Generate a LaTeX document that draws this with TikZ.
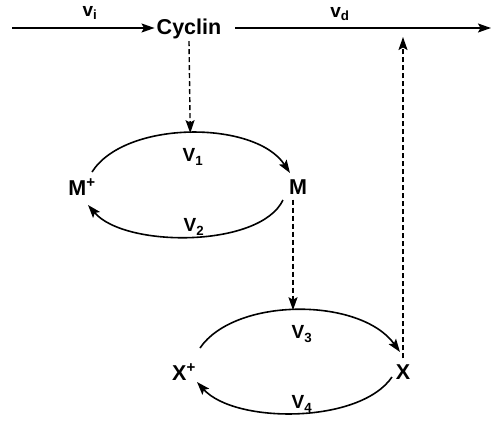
\documentclass[tikz,border=0pt]{standalone}
\usepackage{fontspec}
\setmainfont{Liberation Sans}
\usetikzlibrary{arrows.meta}
\begin{document}
\begin{tikzpicture}[x=1pt,y=1pt,
  lbl/.style={font=\fontsize{19}{22}\selectfont\bfseries, inner sep=0pt},
  spc/.style={font=\fontsize{21.5}{25}\selectfont\bfseries, inner sep=2pt},
  flow/.style={line width=1.6pt, -{Stealth[length=13pt,width=9pt,inset=2.5pt]}},
  dflow/.style={flow, line width=1.4pt, dash pattern=on 5pt off 3pt},
]
\useasboundingbox (0,0) rectangle (491,-423);
% species
\node[spc] (cyc) at (189,-29) {Cyclin};
\node[spc] (Mp) at (82,-187) {M\textsuperscript{+}};
\node[spc] (M) at (298,-187) {M};
\node[spc] (Xp) at (184,-372) {X\textsuperscript{+}};
\node[spc] (X) at (403,-372) {X};
\coordinate (in) at (12,-28);
\coordinate (out) at (491,-28);
% input / output
\draw[flow] (in) -- (cyc.west |- in) ;
\draw[flow, shorten <=12pt] (cyc.east |- out) -- (out);
\node[lbl] (vi) at (90,-13) {v\textsubscript{i}};
\node[lbl] (vd) at (340,-14) {v\textsubscript{d}};
% M cycle
\draw[flow] (92,-172) .. controls (125,-120) and (255,-120) .. (290,-173)
  coordinate[pos=0.5] (m1top);
\draw[flow] (283,-200) .. controls (260,-248) and (125,-248) .. (88,-205);
\node[lbl] (V1) at (193,-157) {V\textsubscript{1}};
\node[lbl] (V2) at (194,-227) {V\textsubscript{2}};
% X cycle
\path (200,-348) .. controls (235,-297) and (360,-297) .. (400,-352)
  coordinate[pos=0.5] (x1top);
\draw[flow] (200,-348) .. controls (235,-297) and (360,-297) .. (400,-352);
\draw[flow] (392,-377) .. controls (360,-424) and (235,-424) .. (197,-382);
\node[lbl] (V3) at (302,-334) {V\textsubscript{3}};
\node[lbl] (V4) at (302,-404) {V\textsubscript{4}};
% dashed influences
\draw[dflow] (cyc.south) -- (m1top);
\draw[dflow] (M.south) ++(-5,-3) coordinate (ms) (ms) -- (ms |- x1top);
\draw[dflow, shorten <=4pt, shorten >=9pt] (X.north) -- (X |- out);
\end{tikzpicture}
\end{document}
